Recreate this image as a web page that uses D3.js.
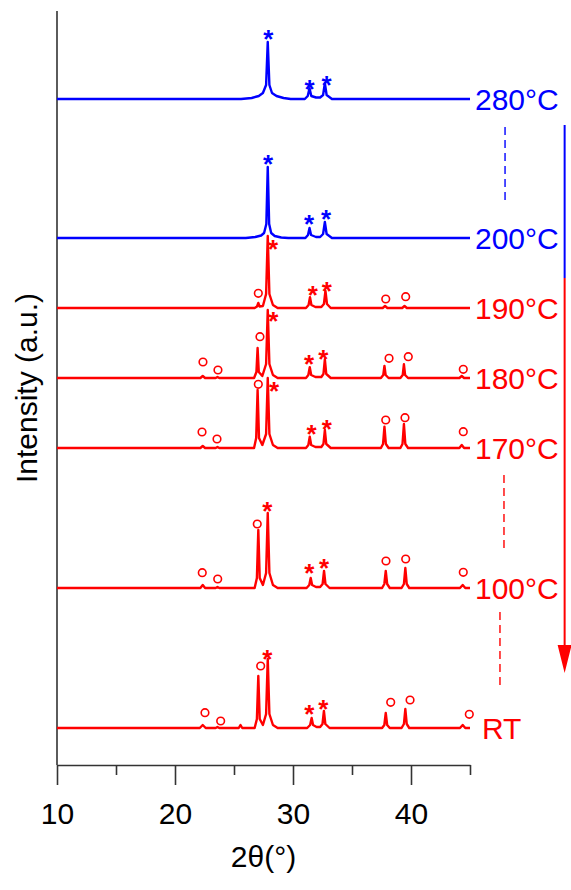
<!DOCTYPE html>
<html>
<head>
<meta charset="utf-8">
<script src="https://cdn.jsdelivr.net/npm/d3@7"></script>
<style>
  body { margin: 0; background: #fff; }
  text { font-family: "Liberation Sans", Arial, sans-serif; }
</style>
</head>
<body>
<div id="chart"></div>
<script>
// XRD patterns, [2theta, intensity above own baseline]
var rt = [[10,0],[22.1,0],[22.35,3],[22.6,0],[23.45,0],[23.6,1],[23.75,0],[25.4,0],[25.55,3],[25.7,0],
  [26.75,0],[26.94,9],[27.06,52],[27.18,9],[27.45,3],[27.72,14],[27.86,69],[28.0,14],[28.3,3],[28.7,0],
  [31.2,0],[31.45,3],[31.58,10],[31.7,3],[32.0,1],[32.3,1],[32.5,4],[32.62,17],[32.74,4],[33.1,0],
  [37.55,0],[37.74,3],[37.86,15],[37.98,3],[38.2,0],[39.2,0],[39.4,4],[39.52,19],[39.64,4],[39.85,0],
  [44.15,0],[44.38,3],[44.6,0],[45,0]];
var p100 = [[10,0],[22.15,0],[22.35,3],[22.55,0],[23.45,0],[23.6,1],[23.75,0],
  [26.75,0],[26.94,10],[27.06,58],[27.18,10],[27.45,3],[27.72,15],[27.86,75],[28.0,15],[28.3,3],[28.7,0],
  [31.15,0],[31.38,3],[31.5,10],[31.62,3],[31.95,1],[32.3,1],[32.51,4],[32.63,17],[32.75,4],[33.1,0],
  [37.55,0],[37.74,4],[37.86,17],[37.98,4],[38.2,0],[39.2,0],[39.4,4],[39.52,20],[39.64,4],[39.85,0],
  [44.15,0],[44.38,3],[44.6,0],[45,0]];
var p170 = [[10,0],[22.15,0],[22.35,2],[22.55,0],[23.45,0],[23.6,1],[23.75,0],
  [26.7,0],[26.88,10],[27.0,58],[27.12,10],[27.4,3],[27.72,14],[27.86,70],[28.0,14],[28.3,3],[28.7,0],
  [31.1,0],[31.3,3],[31.42,11.3],[31.54,3],[31.9,1],[32.4,1],[32.58,4],[32.7,18],[32.82,4],[33.2,0],
  [37.45,0],[37.63,4],[37.75,21.3],[37.87,4],[38.1,0],[39.1,0],[39.28,4],[39.4,24],[39.52,4],[39.75,0],
  [44.1,0],[44.3,3],[44.5,0],[45,0]];
var p180 = [[10,0],[22.15,0],[22.35,2],[22.55,0],[23.45,0],[23.6,1],[23.75,0],
  [26.7,0],[26.9,6],[27.0,30],[27.1,6],[27.4,2],[27.72,14],[27.86,68],[28.0,14],[28.3,3],[28.7,0],
  [31.1,0],[31.3,3],[31.42,10.7],[31.54,3],[31.9,1],[32.4,1],[32.58,4],[32.7,18.7],[32.82,4],[33.2,0],
  [37.45,0],[37.65,3],[37.75,12],[37.85,3],[38.1,0],[39.1,0],[39.3,3],[39.4,13.7],[39.5,3],[39.75,0],
  [44.1,0],[44.3,2],[44.5,0],[45,0]];
var p190 = [[10,0],[26.75,0],[26.95,1.5],[27.06,5],[27.17,1.5],[27.45,2],[27.72,14],[27.86,72],[28.0,14],[28.3,3],[28.7,0],
  [31.1,0],[31.32,3],[31.44,10.7],[31.56,3],[31.9,1],[32.4,1],[32.62,4],[32.75,17],[32.88,4],[33.2,0],
  [37.6,0],[37.8,2],[38.0,0],[39.25,0],[39.45,2],[39.65,0],[45,0]];
var p200 = [[10,0],[26.0,0],[26.8,1],[27.3,2.5],[27.55,5],[27.74,14],[27.86,71],[27.98,14],[28.15,5],[28.45,2],[29.0,0.5],[29.6,0],
  [31.05,0],[31.27,3],[31.4,10],[31.53,3],[31.95,1],[32.3,1],[32.55,4],[32.7,16],[32.85,4],[33.3,0],[45,0]];
var p280 = [[10,0],[25.6,0],[26.5,1],[27.1,3],[27.45,6],[27.72,14],[27.86,57],[28.0,14],[28.22,6],[28.6,3],[29.2,1],[29.8,0],
  [31.0,0],[31.25,3],[31.4,10.7],[31.55,3],[31.95,1.5],[32.3,1.5],[32.55,4],[32.7,15.7],[32.85,4],[33.3,0],[45,0]];

var patterns = [rt, p100, p170, p180, p190, p200, p280];
var labels = ["RT", "100°C", "170°C", "180°C", "190°C", "200°C", "280°C"];
var offsets = [37, 177, 317, 387, 457, 527, 666];
var phases = ["low", "low", "low", "low", "low", "high", "high"];

// peak markers: [2theta, height above baseline, symbol]
var markers = [
  [[22.54,15.3,"o"],[23.87,7,"o"],[27.26,62,"o"],[27.82,75.3,"*"],[31.38,20.3,"*"],[32.57,24.7,"*"],[38.28,25.7,"o"],[39.92,28,"o"],[44.94,13.7,"o"]],
  [[22.31,15.3,"o"],[23.62,9,"o"],[26.97,64,"o"],[27.82,83,"*"],[31.38,21.3,"*"],[32.63,26.3,"*"],[37.88,27,"o"],[39.55,29,"o"],[44.43,15.7,"o"]],
  [[22.29,16,"o"],[23.56,9,"o"],[27.06,63.7,"o"],[28.39,63,"*"],[31.58,19.7,"*"],[32.86,24.7,"*"],[37.86,28,"o"],[39.49,30.3,"o"],[44.43,16.3,"o"]],
  [[22.37,16,"o"],[23.64,8,"o"],[27.2,41.3,"o"],[28.33,63,"*"],[31.36,20.3,"*"],[32.57,24.7,"*"],[38.14,19.7,"o"],[39.77,21.3,"o"],[44.43,8.7,"o"]],
  [[27.06,14.7,"o"],[28.3,65,"*"],[31.67,18.7,"*"],[32.86,23,"*"],[37.86,9,"o"],[39.55,11.3,"o"]],
  [[27.88,80,"*"],[31.36,20,"*"],[32.8,25,"*"]],
  [[27.9,65.5,"*"],[31.4,15.7,"*"],[32.85,20,"*"]]
];

// dashed gap markers and the temperature arrow (2theta, intensity units)
var dashX = [47.97, 47.88, 47.54];
var dashFrom = [638, 290, 153];
var dashTo = [560, 213, 77];
var dashPhase = ["high", "low", "low"];
var arrowX = 53.02;
var arrowTop = 640, arrowSwitch = 487, arrowHead = 120, arrowTip = 92;

var xTicks = [10, 20, 30, 40];
var xMinor = [15, 25, 35, 45];

var width = 571,
    height = 890;

var x = d3.scaleLinear()
  .domain([10, 45])
  .range([57, 470]);

var y = d3.scaleLinear()
  .domain([0, 754])
  .range([765, 11]);

var color = d3.scaleOrdinal()
  .domain(["low", "high"])
  .range(["#ff0000", "#0000ff"]);

var svg = d3.select("#chart").append("svg")
  .attr("width", width)
  .attr("height", height);

// axes
var gx = svg.append("g").attr("transform", "translate(0," + y(0) + ")");
gx.call(d3.axisBottom(x).tickValues(xTicks).tickSize(20).tickSizeOuter(0).tickPadding(18).tickFormat(d3.format("d")));
gx.selectAll("text").attr("font-size", 30).attr("fill", "#000").attr("font-family", null);
var gm = svg.append("g").attr("transform", "translate(0," + y(0) + ")");
gm.call(d3.axisBottom(x).tickValues(xMinor).tickSize(10).tickSizeOuter(0).tickFormat(""));
gm.select(".domain").remove();
svg.selectAll(".tick line, .domain").attr("stroke", "#333").attr("stroke-width", 1.6);

svg.append("line")
  .attr("x1", x(10)).attr("x2", x(10))
  .attr("y1", y(0)).attr("y2", y(754))
  .attr("stroke", "#333").attr("stroke-width", 1.6);

svg.append("text")
  .attr("x", (x(10) + x(45)) / 2)
  .attr("y", 867)
  .attr("text-anchor", "middle")
  .attr("font-size", 30)
  .text("2θ(°)");

svg.append("text")
  .attr("transform", "translate(37," + (y(0) + y(754)) / 2 + ")rotate(-90)")
  .attr("text-anchor", "middle")
  .attr("font-size", 30)
  .text("Intensity (a.u.)");

// patterns
var line = d3.line();
patterns.forEach(function(p, i) {
  var off = offsets[i];
  var c = color(phases[i]);
  svg.append("path")
    .datum(p)
    .attr("fill", "none")
    .attr("stroke", c)
    .attr("stroke-width", 2.4)
    .attr("stroke-linejoin", "round")
    .attr("d", line.x(function(d) { return x(d[0]); }).y(function(d) { return y(d[1] + off); }));

  var m = svg.append("g");
  m.selectAll("circle")
    .data(markers[i].filter(function(d) { return d[2] == "o"; }))
    .enter().append("circle")
    .attr("cx", function(d) { return x(d[0]); })
    .attr("cy", function(d) { return y(d[1] + off); })
    .attr("r", 3.8)
    .attr("fill", "none")
    .attr("stroke", c)
    .attr("stroke-width", 1.6);
  m.selectAll("text")
    .data(markers[i].filter(function(d) { return d[2] == "*"; }))
    .enter().append("text")
    .attr("x", function(d) { return x(d[0]); })
    .attr("y", function(d) { return y(d[1] + off); })
    .attr("dy", "0.57em")
    .attr("text-anchor", "middle")
    .attr("font-size", 26)
    .attr("font-weight", "bold")
    .attr("fill", c)
    .text("*");

  // RT label sits a little further right, past its last marker
  svg.append("text")
    .attr("x", x(45) + (labels[i] == "RT" ? 12 : 5))
    .attr("y", y(off))
    .attr("dy", "0.36em")
    .attr("font-size", 30)
    .attr("fill", c)
    .text(labels[i]);
});

// dashed continuation marks
dashX.forEach(function(d, i) {
  svg.append("line")
    .attr("x1", x(d)).attr("x2", x(d))
    .attr("y1", y(dashFrom[i])).attr("y2", y(dashTo[i]))
    .attr("stroke", color(dashPhase[i]))
    .attr("stroke-width", 1.4)
    .attr("stroke-dasharray", "8,5");
});

// temperature arrow
svg.append("line")
  .attr("x1", x(arrowX)).attr("x2", x(arrowX))
  .attr("y1", y(arrowTop)).attr("y2", y(arrowSwitch))
  .attr("stroke", color("high")).attr("stroke-width", 2);
svg.append("line")
  .attr("x1", x(arrowX)).attr("x2", x(arrowX))
  .attr("y1", y(arrowSwitch)).attr("y2", y(arrowHead))
  .attr("stroke", color("low")).attr("stroke-width", 2);
svg.append("path")
  .attr("d", "M" + (x(arrowX) - 7) + "," + y(arrowHead) + "L" + (x(arrowX) + 7) + "," + y(arrowHead) +
    "L" + x(arrowX) + "," + y(arrowTip) + "Z")
  .attr("fill", color("low"));
</script>
</body>
</html>
